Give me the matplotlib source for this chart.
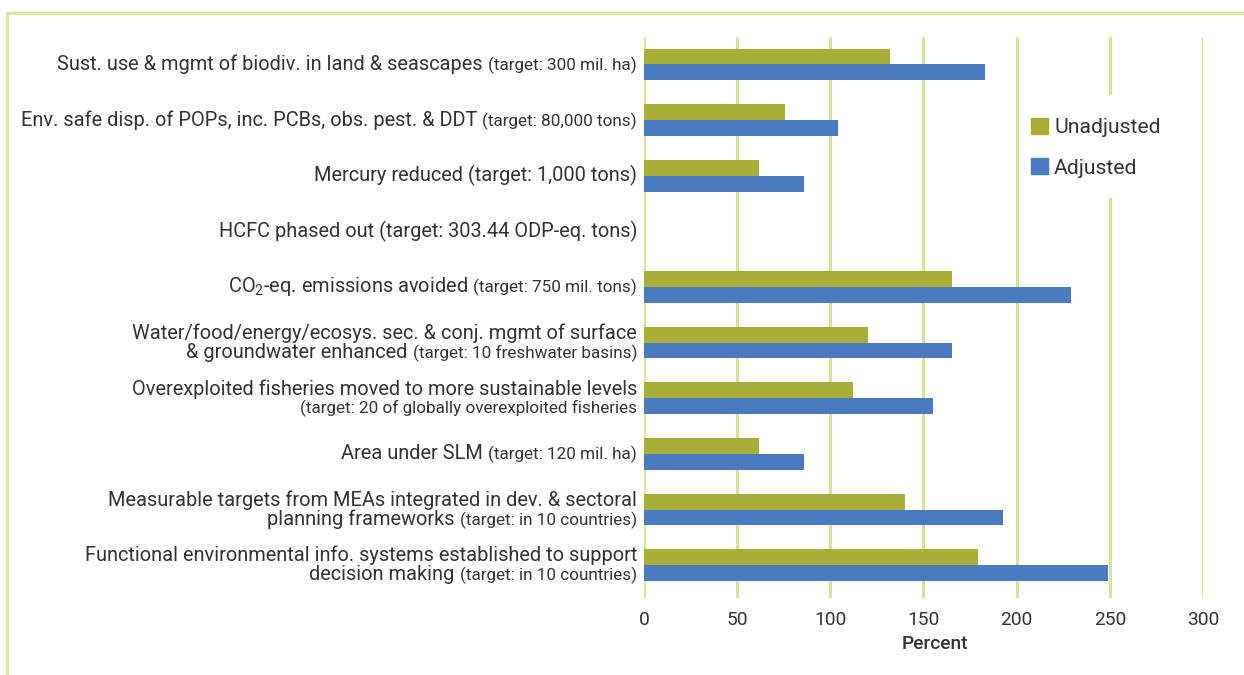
import numpy as np
import matplotlib.pyplot as plt
from matplotlib.offsetbox import TextArea, HPacker, VPacker, AnnotationBbox
from matplotlib.lines import Line2D
from matplotlib.patches import Patch, Rectangle

plt.rcParams['font.family'] = ['Roboto', 'DejaVu Sans']
plt.rcParams['mathtext.fontset'] = 'custom'
plt.rcParams['mathtext.rm'] = 'Roboto'
plt.rcParams['mathtext.it'] = 'Roboto:italic'

# each category label is a list of lines: (regular part, small "target" part)
labels = [
    [("Sust. use & mgmt of biodiv. in land & seascapes", "(target: 300 mil. ha)")],
    [("Env. safe disp. of POPs, inc. PCBs, obs. pest. & DDT", "(target: 80,000 tons)")],
    [("Mercury reduced (target: 1,000 tons)", "")],
    [("HCFC phased out (target: 303.44 ODP-eq. tons)", "")],
    [("CO$_2$-eq. emissions avoided", "(target: 750 mil. tons)")],
    [("Water/food/energy/ecosys. sec. & conj. mgmt of surface", ""),
     ("& groundwater enhanced", "(target: 10 freshwater basins)")],
    [("Overexploited fisheries moved to more sustainable levels", ""),
     ("", "(target: 20 of globally overexploited fisheries")],
    [("Area under SLM", "(target: 120 mil. ha)")],
    [("Measurable targets from MEAs integrated in dev. & sectoral", ""),
     ("planning frameworks", "(target: in 10 countries)")],
    [("Functional environmental info. systems established to support", ""),
     ("decision making", "(target: in 10 countries)")],
]
unadjusted = [132, 75.5, 61.5, 0, 165.5, 120, 112, 61.5, 140, 179.5]
adjusted = [183, 104, 86, 0, 229, 165.5, 155, 86, 192.5, 249]
xticks = [0, 50, 100, 150, 200, 250, 300]

c_unadj = '#a9ae38'
c_adj = '#497bbe'
c_grid = '#d7e496'
c_text = '#333333'
fs_main = 14.4
fs_small = 12.3

fig = plt.figure(figsize=(12.44, 6.75), dpi=100)
ax = fig.add_axes([0.5177, 0.114, 0.4493, 0.831])

y = np.arange(len(labels))
h = 0.285
ax.barh(y - h / 2, unadjusted, height=h, color=c_unadj, label='Unadjusted', zorder=2)
ax.barh(y + h / 2, adjusted, height=h, color=c_adj, label='Adjusted', zorder=2)

ax.set_xlim(0, 300)
ax.set_ylim(9.59, -0.49)
ax.set_xticks(xticks)
ax.set_yticks([])
ax.grid(axis='x', color=c_grid, linewidth=2.2)
ax.set_axisbelow(True)
for s in ax.spines.values():
    s.set_visible(False)
ax.tick_params(axis='x', length=0, pad=9, labelsize=13.8, labelcolor=c_text)
ax.set_xlabel('Percent', fontsize=13.8, fontweight='medium', color=c_text)
ax.xaxis.set_label_coords(0.52, -0.065)

# category labels with mixed font sizes, right-aligned to the axis
for i, lines in enumerate(labels):
    rows = []
    for main, small in lines:
        parts = []
        if main:
            parts.append(TextArea(main, textprops=dict(fontsize=fs_main, color=c_text)))
        if small:
            parts.append(TextArea(small, textprops=dict(fontsize=fs_small, color=c_text)))
        rows.append(HPacker(children=parts, align='baseline', pad=0, sep=4))
    box = VPacker(children=rows, align='right', pad=0, sep=0)
    ab = AnnotationBbox(box, (0, i), xybox=(-5, 0), xycoords='data',
                        boxcoords='offset points', box_alignment=(1, 0.5),
                        frameon=False, pad=0, annotation_clip=False)
    ax.add_artist(ab)

# white legend background cutting through the gridlines
W, H = 1244, 675
ax.add_artist(Rectangle((1021 / W, 1 - 198 / H), 172 / W, 103 / H,
                        transform=fig.transFigure, facecolor='white',
                        edgecolor='none', zorder=1.5))
handles = [Patch(color=c_unadj), Patch(color=c_adj)]
leg = ax.legend(handles, ['Unadjusted', 'Adjusted'], loc='upper left',
                bbox_to_anchor=(1016 / W, 1 - 103 / H), bbox_transform=fig.transFigure,
                frameon=False, fontsize=15.2, labelspacing=1.0, handlelength=0.8,
                handleheight=0.8, handletextpad=0.3, borderpad=0.2)
for t in leg.get_texts():
    t.set_color(c_text)
leg.set_zorder(3)

# light green frame along the top and left
fig.add_artist(Line2D([7 / W, 1], [1 - 13 / H, 1 - 13 / H], color='#dbe69f', linewidth=2.4))
fig.add_artist(Line2D([7 / W, 7 / W], [0, 1 - 13 / H], color='#dbe69f', linewidth=2.4))

fig.savefig('out.png', dpi=100)
